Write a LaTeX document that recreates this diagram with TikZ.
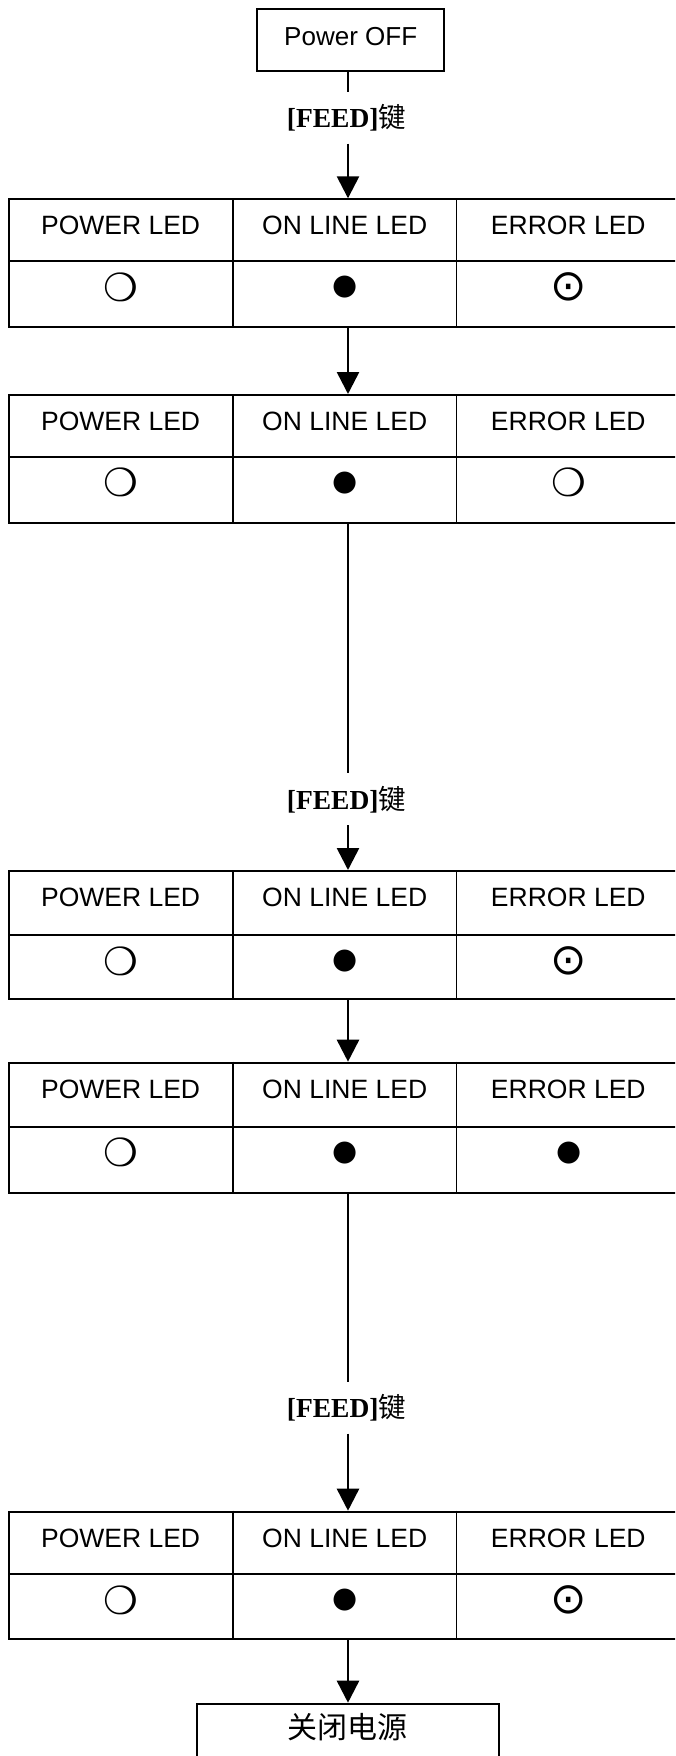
\documentclass[tikz,border=0pt]{standalone}
\usepackage{fontspec}
\usepackage{graphicx}
\setmainfont{Liberation Sans}
\newfontfamily\feedfont{Liberation Serif}
\newfontfamily\cjkfont{Noto Sans CJK SC}
\newfontfamily\symfont{DejaVu Sans}
\usetikzlibrary{arrows.meta}

\newcommand{\SymOff}{\resizebox*{!}{29pt}{\symfont ❍}}
\newcommand{\SymOn}{\resizebox*{!}{22pt}{\symfont ●}}
\newcommand{\SymBlink}{\resizebox*{!}{28.5pt}{\symfont ⊙}}

\tikzset{
  tbl/.style={draw, line width=1.9pt, inner sep=0pt, minimum width=671.7pt, anchor=north west},
  grid/.style={line width=1.9pt},
  hdr/.style={inner sep=0pt, anchor=base, font=\fontsize{26.5}{30}\selectfont},
  sym/.style={inner sep=0pt, anchor=center},
  box/.style={draw, line width=1.9pt, inner sep=0pt},
  feed/.style={inner sep=0pt, anchor=north, text height=35.5pt, text depth=16.1pt,
               font=\fontsize{27.5}{30}\selectfont},
  ln/.style={line width=2.6pt},
  arr/.style={line width=2.6pt, -{Triangle[length=22pt,width=22pt]}}
}

% #1 name, #2 top, #3 divider, #4 bottom, #5 third symbol
\newcommand{\LedTable}[5]{%
  \node[tbl, minimum height={#4-#2}] (#1) at (8.3,#2) {};
  \draw[grid] (8.3,#3) -- (680,#3);
  \draw[grid] (233,#2) -- (233,#4);
  \draw[grid] (456.5,#2) -- (456.5,#4);
  \node[hdr] (#1-h1) at (120.6,#2+36.5) {POWER LED};
  \node[hdr] (#1-h2) at (344.7,#2+36.5) {ON LINE LED};
  \node[hdr] (#1-h3) at (568.3,#2+36.5) {ERROR LED};
  \node[sym] (#1-s1) at (121,#3+26) {\SymOff};
  \node[sym] (#1-s2) at (345.2,#3+26) {\SymOn};
  \node[sym] (#1-s3) at (568.8,#3+26) {#5};
}

\begin{document}
\begin{tikzpicture}[x=1pt,y=-1pt]
\useasboundingbox (0,0) rectangle (675,1756);
\clip (0,0) rectangle (675,1756);
\fill[white] (0,0) rectangle (675,1756);

\coordinate (ax) at (348,0);

\node[box, minimum width=186.7pt, minimum height=61.4pt, text height=18.6pt, text depth=7.2pt,
      font=\fontsize{26}{30}\selectfont] (pwr) at (350.7,40) {Power OFF};

\node[feed] (f1) at (346.5,91.7) {{\feedfont\bfseries [FEED]}{\cjkfont 键}};

\LedTable{t1}{198.3}{261}{325.7}{\SymBlink}
\LedTable{t2}{394}{456.7}{521.7}{\SymOff}

\node[feed] (f2) at (346.5,773.3) {{\feedfont\bfseries [FEED]}{\cjkfont 键}};

\LedTable{t3}{870}{935}{998.3}{\SymBlink}
\LedTable{t4}{1061.7}{1126.7}{1191.7}{\SymOn}

\node[feed] (f3) at (346.5,1381.7) {{\feedfont\bfseries [FEED]}{\cjkfont 键}};

\LedTable{t5}{1510.7}{1574.3}{1638.3}{\SymBlink}

\node[box, minimum width=302.3pt, minimum height=80pt, anchor=north,
      text height=20pt, text depth=30.4pt,
      font=\cjkfont\fontsize{30}{34}\selectfont] (off) at (347.8,1702.7) {关闭电源};

\draw[ln]  (pwr.south -| ax) -- (f1.north -| ax);
\draw[arr] (f1.south -| ax) -- (t1.north -| ax);
\draw[arr] (t1.south -| ax) -- (t2.north -| ax);
\draw[ln]  (t2.south -| ax) -- (f2.north -| ax);
\draw[arr] (f2.south -| ax) -- (t3.north -| ax);
\draw[arr] (t3.south -| ax) -- (t4.north -| ax);
\draw[ln]  (t4.south -| ax) -- (f3.north -| ax);
\draw[arr] (f3.south -| ax) -- (t5.north -| ax);
\draw[arr] (t5.south -| ax) -- (off.north -| ax);
\end{tikzpicture}
\end{document}
